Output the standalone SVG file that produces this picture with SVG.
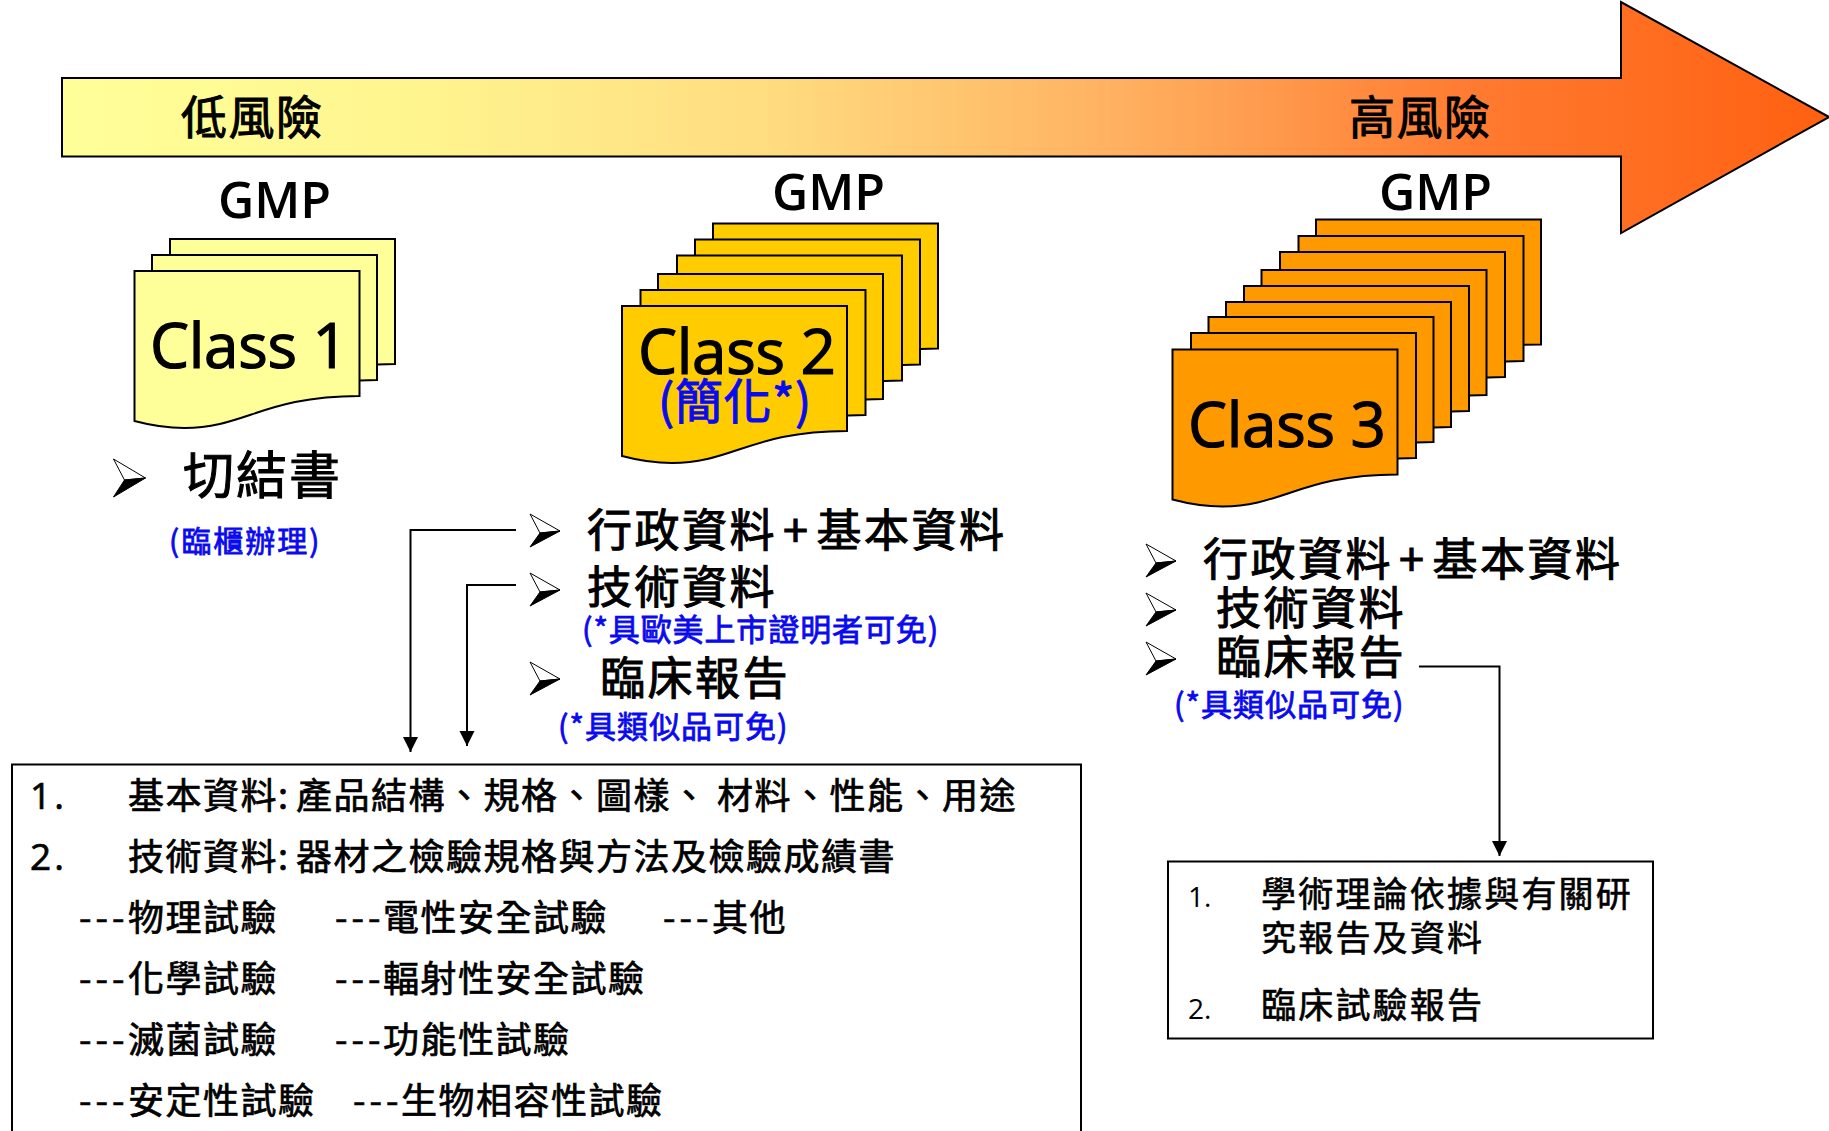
<svg xmlns="http://www.w3.org/2000/svg" xmlns:xlink="http://www.w3.org/1999/xlink" width="1829" height="1131" viewBox="0 0 1829 1131">
<style>
text{font-family:"Open Sans","Noto Sans CJK TC",sans-serif;fill:#000}
.cjk{font-family:"Noto Sans CJK TC","Open Sans",sans-serif;stroke:#000;stroke-width:1px}
.band{font-size:46px;letter-spacing:1.500px}
.gmp{font-size:50px;font-weight:600}
.cls{font-size:62px;letter-spacing:-.3px;stroke:#000;stroke-width:1.2px}
.big{font-size:45px;letter-spacing:2.500px}
.blue{fill:#0A0AF0;stroke:#0A0AF0;stroke-width:.8px}
.box{font-size:36px;letter-spacing:1.500px;stroke-width:.7px}
.boxb{font-size:35px;letter-spacing:2.200px;stroke-width:.6px}
.num{font-family:"Open Sans",sans-serif;font-size:37px;stroke-width:.7px;letter-spacing:3px}
.dash{letter-spacing:4px}
.s1{fill:#FFFF99}.s2{fill:#FFCC00}.s3{fill:#FF9900}
.sheet{stroke:#000;stroke-width:2}
.conn{fill:none;stroke:#000;stroke-width:2}
.frame{fill:#fff;stroke:#000;stroke-width:2}
</style>
<defs>
<linearGradient id="risk" gradientUnits="userSpaceOnUse" x1="62" y1="0" x2="1829" y2="0">
<stop offset="0" stop-color="#FFFF99"/><stop offset="0.2" stop-color="#FFF58F"/><stop offset="0.4" stop-color="#FFDC80"/><stop offset="0.6" stop-color="#FFB060"/><stop offset="0.8" stop-color="#FF7A30"/><stop offset="1" stop-color="#FF6010"/>
</linearGradient>
<path id="doc" d="M0 0H225V125C130 125 110 157 50 157C30 157 15 154 0 150Z"/>
<g id="bullet"><path d="M0 0L30 17L10 19Z" fill="#fff" stroke="#000" stroke-width="1"/><path d="M0 33L30 17L10 19Z" fill="#000" stroke="#000" stroke-width="1"/></g>
<g id="bullet-lg"><path d="M0 0L32 19L11 21Z" fill="#fff" stroke="#000" stroke-width="1"/><path d="M0 38L32 19L11 21Z" fill="#000" stroke="#000" stroke-width="1"/></g>
<marker id="head" markerUnits="userSpaceOnUse" markerWidth="16" markerHeight="16" refX="15" refY="8" orient="auto"><path d="M0 0.5L15 8L0 15.500Z" fill="#000"/></marker>
</defs>

<g id="risk-arrow">
<path d="M62 78H1621V2L1829 117L1621 233V156.500H62Z" fill="url(#risk)" stroke="#000" stroke-width="2"/>
<text class="cjk band" x="181" y="134">低風險</text>
<text class="cjk band" x="1349" y="134">高風險</text>
</g>

<g id="class1">
<text class="gmp" x="218" y="218">GMP</text>
<g class="s1 sheet">
<use xlink:href="#doc" x="170" y="239"/><use xlink:href="#doc" x="152" y="255"/><use xlink:href="#doc" x="134.500" y="271"/>
</g>
<text class="cls" x="150" y="368">Class 1</text>
<use xlink:href="#bullet-lg" x="113.500" y="459"/>
<text class="cjk" x="183" y="494" font-size="51" letter-spacing="2">切結書</text>
<text class="cjk blue" x="169" y="552" font-size="30" letter-spacing="2">(臨櫃辦理)</text>
</g>

<g id="class2">
<text class="gmp" x="772" y="210">GMP</text>
<g class="s2 sheet">
<use xlink:href="#doc" x="713" y="223.500"/><use xlink:href="#doc" x="695" y="239.500"/><use xlink:href="#doc" x="677" y="255.500"/><use xlink:href="#doc" x="658" y="274"/><use xlink:href="#doc" x="640.500" y="290"/><use xlink:href="#doc" x="622" y="306"/>
</g>
<text class="cls" x="638" y="374">Class 2</text>
<text class="cjk blue" x="658" y="419" font-size="48" letter-spacing=".6" style="stroke-width:1px">(簡化*)</text>
<use xlink:href="#bullet" x="530" y="514"/><use xlink:href="#bullet" x="530" y="573"/><use xlink:href="#bullet" x="530" y="662"/>
<text class="cjk big" x="587" y="547">行政資料<tspan dx="6">+</tspan><tspan dx="6">基本資料</tspan></text>
<text class="cjk big" x="587" y="604">技術資料</text>
<text class="cjk blue" x="582" y="641" font-size="31" letter-spacing=".9">(*具歐美上市證明者可免)</text>
<text class="cjk big" x="600" y="695">臨床報告</text>
<text class="cjk blue" x="558" y="738" font-size="31" letter-spacing="1">(*具類似品可免)</text>
</g>

<g id="class3">
<text class="gmp" x="1379" y="210">GMP</text>
<g class="s3 sheet">
<use xlink:href="#doc" x="1316" y="219.500"/><use xlink:href="#doc" x="1298.500" y="236"/><use xlink:href="#doc" x="1280" y="252"/><use xlink:href="#doc" x="1261.500" y="270"/><use xlink:href="#doc" x="1244" y="286"/><use xlink:href="#doc" x="1226" y="302"/><use xlink:href="#doc" x="1208.500" y="317"/><use xlink:href="#doc" x="1191" y="333"/><use xlink:href="#doc" x="1172.500" y="349.500"/>
</g>
<text class="cls" x="1188" y="447">Class 3</text>
<use xlink:href="#bullet" x="1146" y="544"/><use xlink:href="#bullet" x="1146" y="593"/><use xlink:href="#bullet" x="1146" y="642"/>
<text class="cjk big" x="1203" y="576">行政資料<tspan dx="6">+</tspan><tspan dx="6">基本資料</tspan></text>
<text class="cjk big" x="1216" y="625">技術資料</text>
<text class="cjk big" x="1216" y="674">臨床報告</text>
<text class="cjk blue" x="1174" y="716" font-size="31" letter-spacing="1">(*具類似品可免)</text>
</g>

<g id="box-class2">
<rect class="frame" x="12" y="764.500" width="1069" height="400"/>
<text class="cjk box" y="809"><tspan x="30" class="num">1.</tspan><tspan x="128">基本資料:</tspan><tspan x="296">產品結構、規格、圖樣、</tspan><tspan x="717">材料、性能、用途</tspan></text>
<text class="cjk box" y="870"><tspan x="30" class="num">2.</tspan><tspan x="128">技術資料:</tspan><tspan x="296">器材之檢驗規格與方法及檢驗成績書</tspan></text>
<text class="cjk box" y="931"><tspan x="79" class="dash">---</tspan><tspan x="128">物理試驗</tspan><tspan x="335" class="dash">---</tspan><tspan x="383">電性安全試驗</tspan><tspan x="663" class="dash">---</tspan><tspan x="712">其他</tspan></text>
<text class="cjk box" y="992"><tspan x="79" class="dash">---</tspan><tspan x="128">化學試驗</tspan><tspan x="335" class="dash">---</tspan><tspan x="383">輻射性安全試驗</tspan></text>
<text class="cjk box" y="1053"><tspan x="79" class="dash">---</tspan><tspan x="128">滅菌試驗</tspan><tspan x="335" class="dash">---</tspan><tspan x="383">功能性試驗</tspan></text>
<text class="cjk box" y="1114"><tspan x="79" class="dash">---</tspan><tspan x="128">安定性試驗</tspan><tspan x="353" class="dash">---</tspan><tspan x="401">生物相容性試驗</tspan></text>
</g>

<g id="box-class3">
<rect class="frame" x="1168" y="861.500" width="485" height="177"/>
<text x="1188" y="907" font-size="28">1.</text>
<text class="cjk boxb" x="1261" y="907">學術理論依據與有關研</text>
<text class="cjk boxb" x="1261" y="951">究報告及資料</text>
<text x="1188" y="1019" font-size="28">2.</text>
<text class="cjk boxb" x="1261" y="1018">臨床試驗報告</text>
</g>

<g id="connectors">
<path class="conn" d="M516 530H410.500V752" marker-end="url(#head)"/>
<path class="conn" d="M516 585H467V746" marker-end="url(#head)"/>
<path class="conn" d="M1419 666.500H1499.500V856" marker-end="url(#head)"/>
</g>
</svg>
